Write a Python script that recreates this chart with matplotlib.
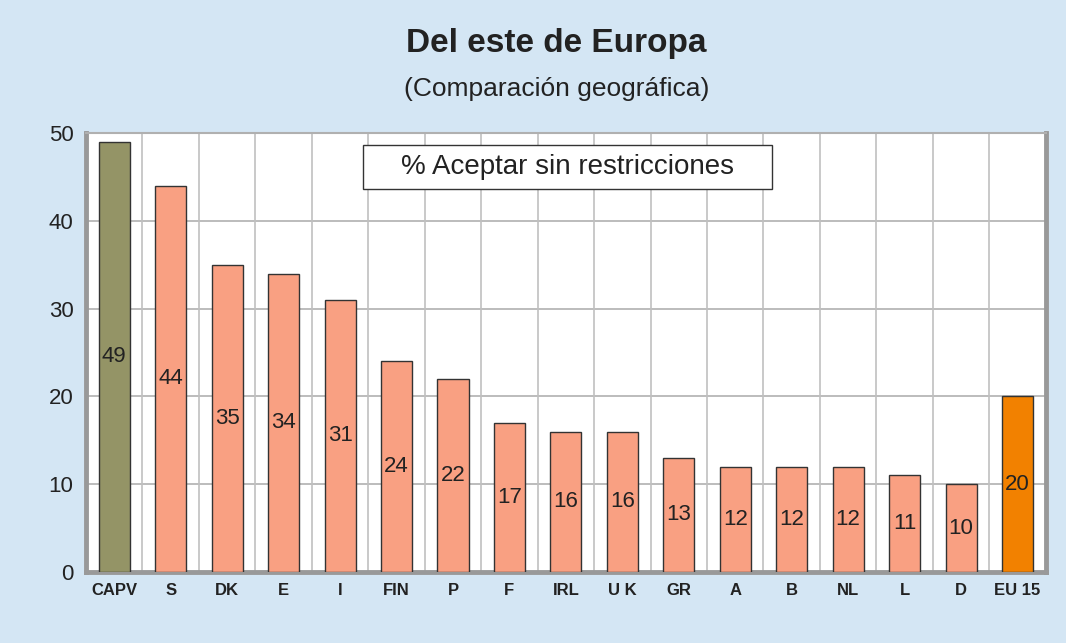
import numpy as np
import matplotlib.pyplot as plt
from matplotlib.patches import Rectangle

plt.rcParams['font.family'] = ['Liberation Sans', 'DejaVu Sans']

categories = ["CAPV", "S", "DK", "E", "I", "FIN", "P", "F", "IRL", "U K", "GR", "A", "B", "NL", "L", "D", "EU 15"]
values = [49, 44, 35, 34, 31, 24, 22, 17, 16, 16, 13, 12, 12, 12, 11, 10, 20]

bg = "#D4E6F4"
colors = ["#949466"] + ["#F9A082"] * 15 + ["#F28100"]

fig = plt.figure(figsize=(10.66, 6.43), dpi=100, facecolor=bg)
ax = fig.add_axes([0.0807, 0.1104, 0.9003, 0.6826])
ax.set_facecolor("white")

x = np.arange(len(categories))
bars = ax.bar(x, values, width=0.55, color=colors, edgecolor="#333333", linewidth=1.0, zorder=3)
for xi, v in zip(x, values):
    ax.text(xi, v / 2, str(v), ha="center", va="center", fontsize=16, color="#222222", zorder=4)

ax.set_xlim(-0.5, len(categories) - 0.5)
ax.set_ylim(0, 50)
ax.set_yticks([0, 10, 20, 30, 40, 50])
ax.set_xticks(x)
ax.set_xticklabels(categories, fontweight="bold", fontsize=12, color="#222222")
ax.tick_params(axis="x", length=0, pad=8)
ax.tick_params(axis="y", length=0, labelsize=16, pad=9, labelcolor="#222222")

# grid at category boundaries and y ticks
for b in np.arange(0.5, len(categories) - 0.5, 1):
    ax.axvline(b, color="#C0C0C0", linewidth=1.2, zorder=1)
ax.yaxis.grid(True, color="#B0B0B0", linewidth=1.2, zorder=1)
ax.set_axisbelow(True)

for s in ["left", "bottom", "right"]:
    ax.spines[s].set_color("#999999")
    ax.spines[s].set_linewidth(3.5)
ax.spines["top"].set_color("#B0B0B0")
ax.spines["top"].set_linewidth(1.5)

fig.text(0.522, 0.933, "Del este de Europa", ha="center", va="center", fontsize=24, fontweight="bold", color="#222222")
fig.text(0.522, 0.862, "(Comparación geográfica)", ha="center", va="center", fontsize=19, color="#222222")

# legend-like box
ax.add_patch(Rectangle((0.2885, 0.872), 0.426, 0.101, transform=ax.transAxes,
                       facecolor="white", edgecolor="#333333", linewidth=1.0, zorder=5))
ax.text(0.5015, 0.922, "% Aceptar sin restricciones", transform=ax.transAxes, ha="center", va="center",
        fontsize=20, color="#222222", zorder=6)

fig.savefig("out.png", dpi=100, facecolor=bg)
